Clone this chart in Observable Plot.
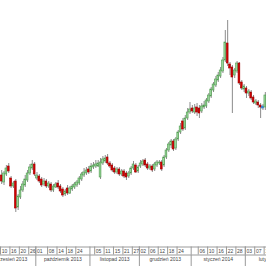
<!DOCTYPE html>
<html><head><meta charset="utf-8">
<script src="https://cdn.jsdelivr.net/npm/d3@7"></script>
<script src="https://cdn.jsdelivr.net/npm/@observablehq/plot@0.6"></script>
<style>html,body{margin:0;padding:0;background:#fff;} svg{display:block;} #c{width:266px;}</style>
</head><body><div id="c"></div>
<script>
// OHLC per trading day (Sep 10 2013 .. Feb 13 2014, weekdays)
const openP  = [8.5,7.8,8.6,9.4,8.2,7.4,7.9,5.3,6.3,7.0,7.5,8.0,8.7,9.2,9.6,8.2,8.4,8.1,7.6,7.9,7.4,7.6,7.0,7.3,7.7,7.4,7.1,6.6,7.2,6.7,7.1,7.3,7.5,7.7,8.1,8.5,8.7,9.1,8.9,9.3,9.4,9.4,8.3,9.7,9.9,10.3,9.7,9.5,9.2,8.8,9.1,8.6,8.9,8.7,8.4,8.7,9.2,9.5,8.9,9.4,9.6,10.0,9.6,9.2,9.4,9.1,9.5,9.7,9.8,9.5,10.3,11.0,11.5,11.9,11.2,12.1,12.8,13.9,13.2,14.2,14.8,15.2,14.8,15.3,15.2,14.9,15.3,15.4,15.9,16.4,17.0,17.5,18.0,18.4,18.9,20.0,21.7,19.6,19.3,18.5,18.9,19.7,17.8,17.1,17.2,16.7,16.8,16.3,15.7,15.8,15.5,15.4,15.3];
const highP  = [9.0,8.9,9.5,9.7,8.4,7.9,8.1,6.6,7.4,7.9,8.5,9.0,9.6,10.0,9.8,8.8,8.6,8.3,8.2,8.1,7.9,7.8,7.6,7.8,8.0,7.6,7.3,7.1,7.5,7.4,7.6,7.8,8.0,8.4,8.8,9.2,9.3,9.4,9.7,9.8,10.0,10.0,10.2,10.4,10.5,10.6,9.9,9.7,9.4,9.3,9.3,9.1,9.1,8.9,8.9,9.4,9.9,9.7,9.5,10.0,10.1,10.2,9.8,9.6,9.6,9.8,10.0,10.0,10.0,10.5,11.2,11.8,12.1,12.1,12.3,13.0,13.7,14.2,14.5,15.2,15.8,15.5,15.6,15.7,15.5,15.7,15.9,16.2,16.7,17.3,17.8,18.4,18.8,19.3,20.3,23.0,24.0,19.8,19.5,19.2,19.9,19.8,18.0,17.6,17.4,17.1,17.0,16.5,16.1,16.0,15.7,15.6,16.8];
const lowP   = [7.6,7.5,8.4,8.7,7.2,7.2,4.8,5.0,6.1,6.8,7.3,7.8,8.5,9.0,8.4,8.0,7.7,7.3,7.4,7.2,7.2,6.8,6.8,7.2,7.1,6.7,6.3,6.4,6.5,6.6,6.9,7.1,7.3,7.5,7.9,8.3,8.5,8.6,8.7,9.1,9.2,9.3,8.1,9.5,9.7,9.5,9.2,8.8,8.6,8.6,8.4,8.4,8.2,8.0,8.2,8.5,9.0,8.7,8.7,9.2,9.4,9.3,9.0,9.0,8.8,8.9,9.3,9.5,8.9,9.3,10.1,10.8,11.2,10.9,11.0,11.9,12.6,12.9,13.0,14.0,14.6,14.7,14.6,14.4,14.2,14.7,15.1,15.2,15.7,16.2,16.8,17.3,17.8,18.2,18.7,19.8,19.4,18.5,14.7,18.2,18.7,17.5,17.0,16.8,16.2,16.4,16.0,15.6,15.5,15.2,14.2,15.0,15.0];
const closeP = [7.9,8.7,9.2,8.9,7.4,7.7,5.2,6.4,7.0,7.6,8.1,8.7,9.3,9.6,8.6,8.5,7.9,7.5,7.9,7.4,7.7,7.0,7.4,7.6,7.3,6.9,6.5,6.9,6.7,7.2,7.4,7.6,7.8,8.2,8.6,8.8,9.0,8.8,9.4,9.5,9.6,9.7,9.8,10.1,10.2,9.7,9.4,9.0,8.8,9.1,8.6,8.9,8.4,8.3,8.7,9.2,9.6,8.8,9.3,9.7,9.9,9.5,9.2,9.4,9.0,9.6,9.8,9.8,9.1,10.3,11.0,11.6,11.9,11.1,12.1,12.8,13.4,13.1,14.2,14.8,15.1,14.9,15.2,14.8,14.7,15.4,15.5,16.0,16.5,17.1,17.6,18.1,18.5,19.0,20.0,21.8,19.7,19.2,18.3,19.0,19.7,17.7,17.2,17.4,16.7,16.9,16.2,15.8,15.9,15.5,15.3,15.2,16.5];
const highlightIndex = 111;

// bottom axis: day ticks (trading-day index) and labels
const tickIndex = [0,4,8,12, 15,20,24,28,32, 40,44,48,52,56, 59,63,67,71,75, 84,88,92,96,100, 104,108,112];
const tickText  = ["10","16","20","26", "01","08","14","18","24", "05","11","15","21","27", "02","06","12","18","24", "06","10","16","22","28", "03","07","13"];
const monthNames = ["wrzesień 2013","październik 2013","listopad 2013","grudzień 2013","styczeń 2014","luty 2014"];
const monthFirst = [-6, 15, 38, 59, 81, 104];   // index of first weekday of month
const monthLast  = [14, 37, 58, 80, 103, 123];  // index of last weekday of month

const rows = openP.map((o, i) => ({
  i, o, h: highP[i], l: lowP[i], c: closeP[i],
  kind: i === highlightIndex ? "blue" : (closeP[i] >= o ? "up" : "down")
}));
const fillOf = {up: "#9ad89a", down: "#d40000", blue: "#3b8fe0"};
const strokeOf = {up: "#4e9a4e", down: "#a00000", blue: "#1f6fc0"};

const N = openP.length;
const xDomain = [-0.5, N - 0.5];

const chart = Plot.plot({
  width: 266, height: 246, margin: 0,
  x: {domain: xDomain, axis: null},
  y: {domain: [1.4, 26], axis: null},
  marks: [
    Plot.ruleX(rows, {x: "i", y1: "l", y2: "h", stroke: "#8c8c8c", strokeWidth: 1}),
    Plot.rect(rows, {x1: d => d.i - 0.38, x2: d => d.i + 0.38, y1: "o", y2: "c",
      fill: d => fillOf[d.kind], stroke: d => strokeOf[d.kind], strokeWidth: 0.6})
  ]
});

const boundaries = monthFirst.slice(1).map(v => v - 0.5);
const separators = tickIndex.map(v => v - 0.5).concat(boundaries);
const months = monthNames.map((name, k) => ({name, mid: (monthFirst[k] + monthLast[k]) / 2}));
const ticks = tickIndex.map((v, k) => ({v, t: tickText[k]}));

const axis = Plot.plot({
  width: 266, height: 20, margin: 0,
  x: {domain: xDomain, axis: null},
  y: {domain: [0, 20], range: [0, 20], axis: null},
  marks: [
    Plot.ruleY([0.5, 8.5], {stroke: "#9a9a9a"}),
    Plot.ruleX(separators, {y1: 0.5, y2: 8.5, stroke: "#9a9a9a"}),
    Plot.ruleX(boundaries, {y1: 8.5, y2: 20, stroke: "#9a9a9a"}),
    Plot.text(ticks, {x: "v", y: 4.8, text: "t", textAnchor: "start", dx: 0, fontSize: 5, fill: "#444", fontFamily: "Liberation Sans, Arial, sans-serif"}),
    Plot.text(months, {x: "mid", y: 13.2, text: "name", fontSize: 5, fill: "#444", fontFamily: "Liberation Sans, Arial, sans-serif"})
  ]
});

const c = document.getElementById("c");
c.appendChild(chart);
c.appendChild(axis);
</script>
</body></html>
